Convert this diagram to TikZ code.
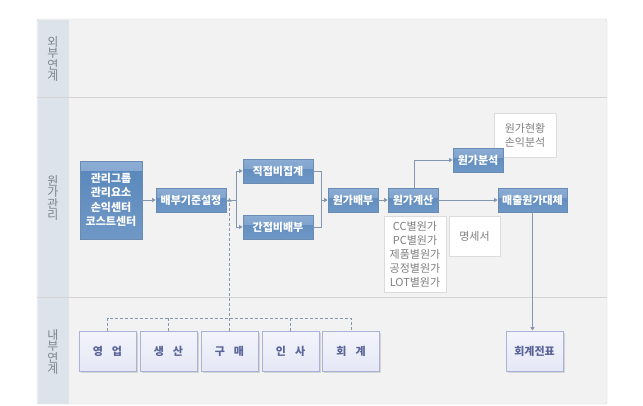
\documentclass[tikz,border=0pt]{standalone}
\usepackage{fontspec}
\setmainfont{Noto Sans CJK KR}
\usetikzlibrary{arrows.meta,shadows,calc}
\definecolor{panelbg}{HTML}{F2F2F2}
\definecolor{labelbg}{HTML}{DDE3EA}
\definecolor{panelline}{HTML}{D4D4D4}
\definecolor{labeltext}{HTML}{7E848C}
\definecolor{linec}{HTML}{8397B0}
\definecolor{blueborder}{HTML}{6A8CB3}
\definecolor{bluemid}{HTML}{5987BB}
\definecolor{bluebot}{HTML}{6F98C6}
\definecolor{bandtop}{HTML}{8BACD3}
\definecolor{bandbot}{HTML}{6E96C5}
\definecolor{whiteborder}{HTML}{DCDCDC}
\definecolor{graytext}{HTML}{7F7F7F}
\definecolor{lavborder}{HTML}{AAB2D6}
\definecolor{lavtop}{HTML}{F3F4FB}
\definecolor{lavbot}{HTML}{E5E8F5}
\definecolor{lavtext}{HTML}{5B6499}
\tikzset{
  bluebox/.style={draw=blueborder, line width=0.8pt, top color=bluemid, bottom color=bluebot,
    text=white, font=\bfseries\fontsize{11}{14.5}\selectfont, align=center, inner sep=0pt,
    path picture={\fill[top color=bandtop,bottom color=bandbot] (path picture bounding box.north west) rectangle ([yshift=-9pt]path picture bounding box.north east);}},
  whitebox/.style={draw=whiteborder, fill=white, text=graytext, font=\fontsize{11}{14}\selectfont,
    align=center, inner sep=0pt,
    drop shadow={shadow xshift=1pt, shadow yshift=-1pt, opacity=0.18, fill=black}},
  lavbox/.style={draw=lavborder, line width=0.8pt, top color=lavtop, bottom color=lavbot,
    text=lavtext, font=\bfseries\fontsize{11}{12}\selectfont, minimum width=57pt, minimum height=40pt,
    inner sep=0pt, drop shadow={shadow xshift=1.5pt, shadow yshift=-2pt, opacity=0.12, fill=black}},
  rowlabel/.style={text=labeltext, font=\fontsize{12}{11.5}\selectfont, align=center, inner sep=0pt},
  conn/.style={draw=linec, line width=0.8pt, -{Triangle[width=4pt,length=3.5pt]}},
  plain/.style={draw=linec, line width=0.8pt},
  dconn/.style={draw=linec, line width=0.8pt, dash pattern=on 3pt off 2pt}
}
\begin{document}
\begin{tikzpicture}[x=1pt,y=-1pt]
\useasboundingbox[fill=white] (0,0) rectangle (643,405);
% panel
\fill[panelbg, draw=panelline, rounded corners=2pt] (37,19) rectangle (607,404);
\fill[labelbg] (37.5,19.5) rectangle (69,403.5);
\draw[panelline, line width=0.8pt] (37,97) -- (607,97);
\draw[panelline, line width=0.8pt] (37,297) -- (607,297);
% row labels
\node[rowlabel] (lab1) at (53,59) {외\\부\\연\\계};
\node[rowlabel] (lab2) at (53,198) {원\\가\\관\\리};
\node[rowlabel] (lab3) at (53,352) {내\\부\\연\\계};
% white info boxes
\node[whitebox, minimum width=62pt, minimum height=44pt] (stat) at (525,135) {원가현황\\손익분석};
\node[whitebox, minimum width=62pt, minimum height=76pt] (ccb) at (415,254) {CC별원가\\PC별원가\\제품별원가\\공정별원가\\LOT별원가};
\node[whitebox, minimum width=51pt, minimum height=40pt] (spec) at (474.5,236) {명세서};
% blue boxes
\node[bluebox, minimum width=62pt, minimum height=78pt] (grp) at (111,200) {관리그룹\\관리요소\\손익센터\\코스트센터};
\node[bluebox, minimum width=70pt, minimum height=24pt] (alloc) at (191,200) {배부기준설정};
\node[bluebox, minimum width=70pt, minimum height=24pt] (direct) at (278,171) {직접비집계};
\node[bluebox, minimum width=70pt, minimum height=24pt] (indir) at (278,227) {간접비배부};
\node[bluebox, minimum width=50pt, minimum height=24pt] (cdist) at (353,200) {원가배부};
\node[bluebox, minimum width=50pt, minimum height=24pt] (ccalc) at (413,200) {원가계산};
\node[bluebox, minimum width=50pt, minimum height=24pt] (canal) at (478,160) {원가분석};
\node[bluebox, minimum width=69pt, minimum height=24pt] (sales) at (532.5,200) {매출원가대체};
% bottom boxes
\node[lavbox] (b1) at (107.5,351) {영\hspace{9pt}업};
\node[lavbox] (b2) at (168.5,351) {생\hspace{9pt}산};
\node[lavbox] (b3) at (229.5,351) {구\hspace{9pt}매};
\node[lavbox] (b4) at (290.5,351) {인\hspace{9pt}사};
\node[lavbox] (b5) at (351,351) {회\hspace{9pt}계};
\node[lavbox] (jp) at (534.5,351) {회계전표};
% coordinates
\coordinate (br) at (236,200);
\coordinate (jn) at (321,200);
\coordinate (dl) at (229.5,318);
\coordinate (dtip) at (229.5,198);
% solid connectors
\draw[conn] (grp.east) -- (alloc.west);
\draw[plain] (alloc.east) -- (br);
\draw[conn] (br) |- (direct.west);
\draw[conn] (br) |- (indir.west);
\draw[plain] (direct.east) -| (jn);
\draw[plain] (indir.east) -| (jn);
\draw[conn] (jn) -- (cdist.west);
\draw[conn] (cdist.east) -- (ccalc.west);
\draw[conn] (ccalc.east) -- (sales.west);
\draw[conn] ([xshift=1pt]ccalc.north) |- (canal.west);
\draw[conn] (sales.south) -- (sales.south |- jp.north);
% dashed connectors
\draw[dconn] (b1.north) |- (dl) -| (b5.north);
\draw[dconn] (b2.north) -- (b2.north |- dl);
\draw[dconn] (b4.north) -- (b4.north |- dl);
\draw[dconn, -{Triangle[width=4pt,length=3.5pt]}] (b3.north) -- (dtip);
\end{tikzpicture}
\end{document}
